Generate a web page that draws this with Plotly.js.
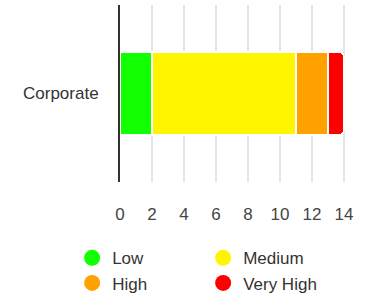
<!DOCTYPE html>
<html><head><meta charset="utf-8">
<script src="https://cdn.plot.ly/plotly-3.0.1.min.js"></script>
<style>html,body{margin:0;padding:0;background:#fff}#c{width:379px;height:298px}</style>
</head><body><div id="c"></div>
<script>
const categories = ["Corporate"];
const seriesNames = ["Low", "Medium", "High", "Very High"];
const lowVals = [2];
const mediumVals = [9];
const highVals = [2];
const veryHighVals = [1];
const colors = ["#11ff00", "#fff500", "#ffa200", "#ff0000"];
const seriesVals = [lowVals, mediumVals, highVals, veryHighVals];

const traces = [];
seriesNames.forEach((n, i) => {
  traces.push({
    type: "bar", orientation: "h", name: n, y: categories, x: seriesVals[i],
    marker: {color: colors[i], line: {color: "#ffffff", width: 1.5}, cornerradius: 5},
    showlegend: false, hoverinfo: "x+name", width: 0.47
  });
});
seriesNames.forEach((n, i) => {
  traces.push({
    type: "scatter", mode: "markers", name: n, x: [null], y: [null],
    marker: {color: colors[i], size: 16, symbol: "circle"}, showlegend: true, hoverinfo: "skip"
  });
});

const layout = {
  width: 379, height: 298,
  margin: {l: 120, r: 3, t: 5, b: 116, autoexpand: false},
  barmode: "stack",
  barcornerradius: 5,
  paper_bgcolor: "#fff", plot_bgcolor: "#fff",
  font: {family: "Liberation Sans, Arial, sans-serif", size: 17, color: "#333"},
  showlegend: true,
  xaxis: {
    range: [0, 16], tickvals: [0, 2, 4, 6, 8, 10, 12, 14], ticktext: ["0","2","4","6","8","10","12","14"],
    showgrid: true, gridcolor: "#e5e5e5", gridwidth: 1.5, zeroline: false,
    ticks: "outside", ticklen: 17, tickcolor: "rgba(0,0,0,0)",
    tickfont: {size: 17, color: "#444"}, showline: false, fixedrange: true, automargin: false
  },
  yaxis: {
    type: "category", showline: true, linecolor: "#333", linewidth: 2,
    showgrid: false, zeroline: false, ticks: "outside", ticklen: 16, tickcolor: "rgba(0,0,0,0)",
    tickfont: {size: 17, color: "#333"}, range: [-0.5, 0.5], automargin: false
  },
  legend: {
    orientation: "h", traceorder: "normal", x: -0.187, xanchor: "left", y: -0.329, yanchor: "top",
    entrywidth: 86, itemwidth: 30, font: {size: 17, color: "#333"}, tracegroupgap: 0
  }
};
Plotly.newPlot("c", traces, layout, {displayModeBar: false, staticPlot: true});
</script></body></html>
